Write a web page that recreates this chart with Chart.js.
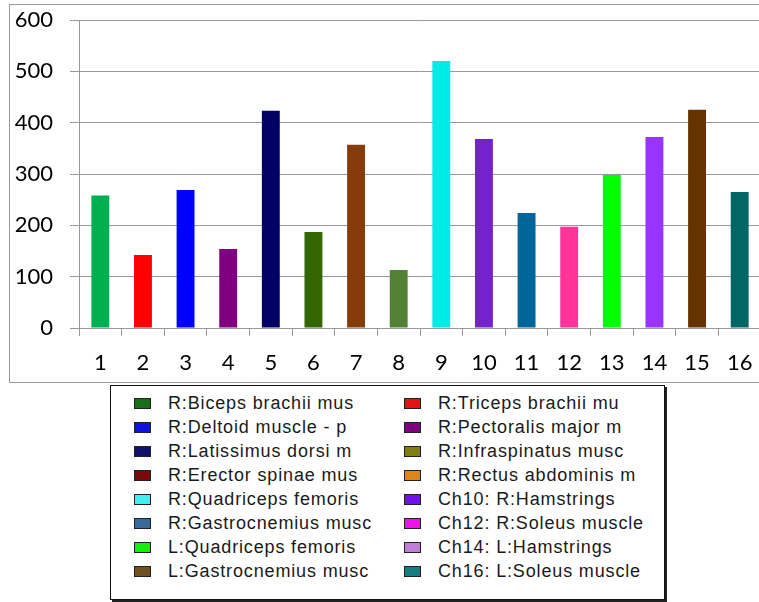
<!DOCTYPE html>
<html>
<head>
<meta charset="utf-8">
<script src="https://cdn.jsdelivr.net/npm/chart.js"></script>
<style>
    html, body { margin: 0; padding: 0; background: #fff; }
    body { width: 759px; height: 602px; overflow: hidden; position: relative; }
    #frame {
        position: absolute; left: 9px; top: 4px; width: 760px; height: 377px;
        border: 1px solid #999; border-right: none;
    }
    #chart-box { position: absolute; left: 0; top: 0; width: 770px; height: 382px; }
    #legend {
        position: absolute; left: 110px; top: 385px; width: 555px; height: 215px;
        box-sizing: border-box; border: 1px solid #111; box-shadow: 2px 2px 0 #222;
        background: #fff; padding: 5px 0 0 23px;
        display: grid; grid-template-columns: 270px 1fr; grid-auto-rows: 24px;
        font-family: "Liberation Sans", Arial, sans-serif; font-size: 18px;
        letter-spacing: 0.85px; color: #1a1a1a;
    }
    .item { display: flex; align-items: center; white-space: nowrap; }
    .swatch {
        width: 15px; height: 9px; border: 1px solid #222; margin-right: 17px; flex: none;
    }
</style>
</head>
<body>
<div id="frame"></div>
<div id="chart-box"><canvas id="muscle-chart" width="770" height="382"></canvas></div>
<div id="legend"></div>
<script>
const categories = ['1', '2', '3', '4', '5', '6', '7', '8', '9', '10', '11', '12', '13', '14', '15', '16'];
const values = [258, 142, 269, 154, 423, 187, 357, 113, 520, 368, 224, 197, 298, 372, 425, 265];
const barColors = [
    '#00B050', '#FF0000', '#0000FF', '#800080', '#000066', '#336600', '#843C0C', '#548235',
    '#00EAE6', '#7322CC', '#006699', '#FF3399', '#00FF00', '#9933FF', '#663300', '#006666'
];
const yTicks = [0, 100, 200, 300, 400, 500, 600];

const legendNames = [
    'R:Biceps brachii mus', 'R:Triceps brachii mu',
    'R:Deltoid muscle - p', 'R:Pectoralis major m',
    'R:Latissimus dorsi m', 'R:Infraspinatus musc',
    'R:Erector spinae mus', 'R:Rectus abdominis m',
    'R:Quadriceps femoris', 'Ch10: R:Hamstrings',
    'R:Gastrocnemius musc', 'Ch12: R:Soleus muscle',
    'L:Quadriceps femoris', 'Ch14: L:Hamstrings',
    'L:Gastrocnemius musc', 'Ch16: L:Soleus muscle'
];
const legendColors = [
    '#1A6E1A', '#E81010', '#1010E8', '#800080',
    '#10106E', '#7F7F10', '#7A0A0A', '#E08418',
    '#40F0F0', '#7010F0', '#3A6A9A', '#F010E8',
    '#10F010', '#C07ED4', '#705020', '#108080'
];

function buildMuscleChart(canvas) {
    const data = {
        labels: categories,
        datasets: [{
            data: values,
            backgroundColor: barColors,
            borderWidth: 0,
            categoryPercentage: 1,
            barPercentage: 0.42
        }]
    };

    const config = {
        type: 'bar',
        data: data,
        options: {
            responsive: false,
            animation: false,
            devicePixelRatio: 1,
            layout: { padding: { top: 20, right: 9, bottom: 0, left: 0 } },
            plugins: {
                legend: { display: false },
                tooltip: { enabled: false }
            },
            scales: {
                x: {
                    afterFit: (scale) => {
                        scale.height = 54;
                        scale.paddingLeft = 0;
                        scale.paddingRight = 0;
                    },
                    grid: {
                        offset: true,
                        drawOnChartArea: false,
                        drawTicks: true,
                        tickLength: 8,
                        color: '#999'
                    },
                    border: { display: true, color: '#999' },
                    ticks: {
                        color: '#000',
                        padding: 14,
                        font: { family: 'Lato', size: 22 }
                    }
                },
                y: {
                    min: 0,
                    max: 600,
                    afterFit: (scale) => {
                        scale.width = 79;
                        scale.paddingTop = 0;
                        scale.paddingBottom = 0;
                    },
                    afterBuildTicks: (scale) => {
                        scale.ticks = yTicks.map(v => ({ value: v }));
                    },
                    grid: {
                        color: '#999',
                        tickLength: 9
                    },
                    border: { display: true, color: '#999' },
                    ticks: {
                        color: '#000',
                        padding: 17,
                        font: { family: 'Lato', size: 22 }
                    }
                }
            }
        }
    };

    new Chart(canvas, config);
}

function buildLegend(container) {
    legendNames.forEach((name, i) => {
        const item = document.createElement('div');
        item.className = 'item';
        const sw = document.createElement('span');
        sw.className = 'swatch';
        sw.style.background = legendColors[i];
        const txt = document.createElement('span');
        txt.textContent = name;
        item.appendChild(sw);
        item.appendChild(txt);
        container.appendChild(item);
    });
}

buildMuscleChart(document.getElementById('muscle-chart'));
buildLegend(document.getElementById('legend'));
</script>
</body>
</html>
